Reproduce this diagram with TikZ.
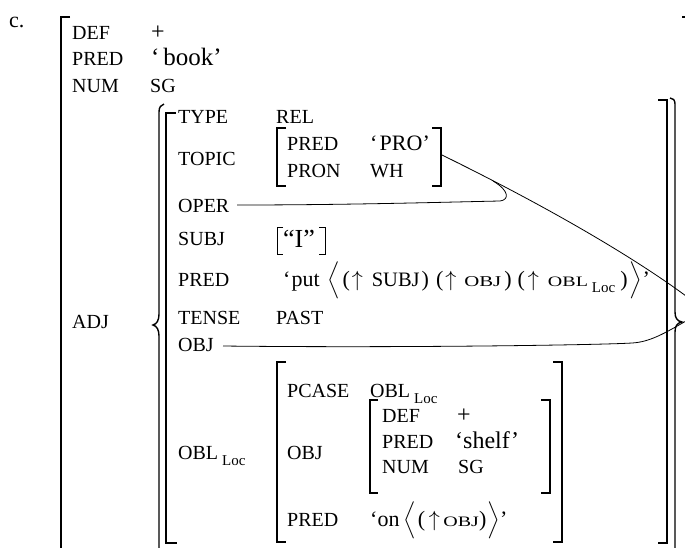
\RequirePackage{fix-cm}
\documentclass[tikz,border=0pt]{standalone}
\usepackage{exscale}
\usepackage{fontspec}
\setmainfont{Liberation Serif}
\newcommand{\fsz}[1]{\fontsize{#1}{#1}\selectfont}
\newcommand{\sca}[1]{\scalebox{1}[0.72]{#1}}
\newcommand{\locsub}{\raisebox{-6pt}{\fsz{15}Loc}}
\newcommand{\tallstrut}{\rule[-14pt]{0pt}{40pt}}
\newcommand{\hs}[1]{\hspace{#1pt}}
\begin{document}
\begin{tikzpicture}[x=1pt,y=-1pt,
  lab/.style={anchor=base west,inner sep=0pt,font=\fsz{20}},
  qv/.style={anchor=base west,inner sep=0pt,font=\fsz{23}},
  brk/.style={line width=1.4pt},
  thinbrk/.style={line width=1pt},
  link/.style={line width=0.8pt}]
\useasboundingbox (0,0) rectangle (685,547);
% label
\node[lab,font=\fsz{22}] (c) at (9,27) {c.};
% outer structure
\node[lab] (def1) at (72,39) {DEF};
\node[lab,font=\fsz{24}] (plus1) at (151,39) {+};
\node[lab] (pred1) at (72,65) {PRED};
\node[qv,font=\fsz{25}] (book) at (151,65) {‘\hspace{0.15em}book’};
\node[lab] (num1) at (72,92) {NUM};
\node[lab] (sg1) at (150,92) {SG};
\node[lab] (adj) at (72,328) {ADJ};
% inner f-structure
\node[lab] (type) at (178,123) {TYPE};
\node[lab] (rel) at (276,123) {REL};
\node[lab] (topic) at (178,165) {TOPIC};
\node[lab] (pred2) at (287,150) {PRED};
\node[qv,font=\fsz{22}] (pro) at (370,150) {‘\hspace{0.1em}PRO’};
\node[lab] (pron) at (287,177) {PRON};
\node[lab] (wh) at (370,177) {WH};
\node[lab] (oper) at (178,212) {OPER};
\node[lab] (subj) at (178,245) {SUBJ};
\node[lab,font=\fsz{26}] (ival) at (283,247) {“I”};
\node[lab] (pred3) at (178,286) {PRED};
\node[qv,font=\fsz{22}] (put) at (283,286) {‘\hs{1}put\hs{8}$\left\langle\tallstrut\right.$\hs{1}(\hs{2}$\uparrow$\hs{9}{\fsz{20.5}SUBJ}\hs{2})\hs{7}(\hs{2}$\uparrow$\hs{8}{\fsz{20.8}\sca{OBJ}}\hs{3})\hs{6}(\hs{3}$\uparrow$\hs{9}{\fsz{20}\sca{OBL}}\hs{4}\locsub\hs{5})\hs{1}$\left.\tallstrut\right\rangle$’};
\node[lab] (tense) at (178,324) {TENSE};
\node[lab] (past) at (276,324) {PAST};
\node[lab] (obj) at (178,351) {OBJ};
\node[lab] (obl) at (178,459) {OBL\hspace{0.2em}\locsub};
% OBL value
\node[lab] (pcase) at (287,397) {PCASE};
\node[lab] (oblv) at (370,397) {OBL\hspace{0.2em}\locsub};
\node[lab] (obj2) at (287,459) {OBJ};
\node[lab] (def2) at (382,422) {DEF};
\node[lab,font=\fsz{24}] (plus2) at (457,422) {+};
\node[lab] (pred4) at (382,448) {PRED};
\node[qv,font=\fsz{24}] (shelf) at (455,448) {‘shelf’};
\node[lab] (num2) at (382,473) {NUM};
\node[lab] (sg2) at (458,473) {SG};
\node[lab] (pred5) at (287,526) {PRED};
\node[qv,font=\fsz{22}] (on) at (370,526) {‘on\hspace{0.2em}$\left\langle\rule[-12pt]{0pt}{34pt}\right.$(\,$\uparrow$\,{\fsz{20}\sca{OBJ}})$\left.\rule[-12pt]{0pt}{34pt}\right\rangle$’};
% brackets
\draw[brk] (70,17) -- (61,17) -- (61,550);
\draw[brk] (682,17) -- (686,17);
\draw[brk] (164,104) .. controls (161,105) and (159,107) .. (159,112) -- (159,314) .. controls (159,320) and (157,324) .. (153,325) .. controls (157,326) and (159,330) .. (159,336) -- (159,550);
\draw[brk] (176,113) -- (166,113) -- (166,543) -- (177,543);
\draw[brk] (658,100) -- (667,100) -- (667,543) -- (658,543);
\draw[brk] (670,98) .. controls (673,98) and (675,100) .. (675,104) -- (675,312) .. controls (675,318) and (677,321) .. (682,322) .. controls (677,323) and (675,326) .. (675,332) -- (675,550);
\draw[brk] (286,128) -- (277,128) -- (277,186) -- (286,186);
\draw[brk] (432,128) -- (441,128) -- (441,186) -- (432,186);
\draw[thinbrk] (283,227) -- (277,227) -- (277,254) -- (283,254);
\draw[thinbrk] (319,227) -- (325,227) -- (325,254) -- (319,254);
\draw[brk] (286,362) -- (277,362) -- (277,542) -- (286,542);
\draw[brk] (553,362) -- (562,362) -- (562,542) -- (553,542);
\draw[brk] (378,400) -- (370,400) -- (370,493) -- (378,493);
\draw[brk] (541,400) -- (550,400) -- (550,493) -- (541,493);
% links
\coordinate (topR) at (442,155);
\coordinate (endA) at (686,296);
\coordinate (operS) at (237,205);
\coordinate (objS) at (223,346);
\coordinate (endC) at (686,321);
\draw[link] (topR) .. controls (560,213) and (640,262) .. (endA);
\draw[link] (operS) .. controls (350,205) and (450,202) .. (500,201) .. controls (509,200) and (510,191) .. (493,181);
\draw[link] (objS) .. controls (400,348) and (600,345) .. (632,343) .. controls (650,342) and (665,333) .. (endC);
\end{tikzpicture}
\end{document}
